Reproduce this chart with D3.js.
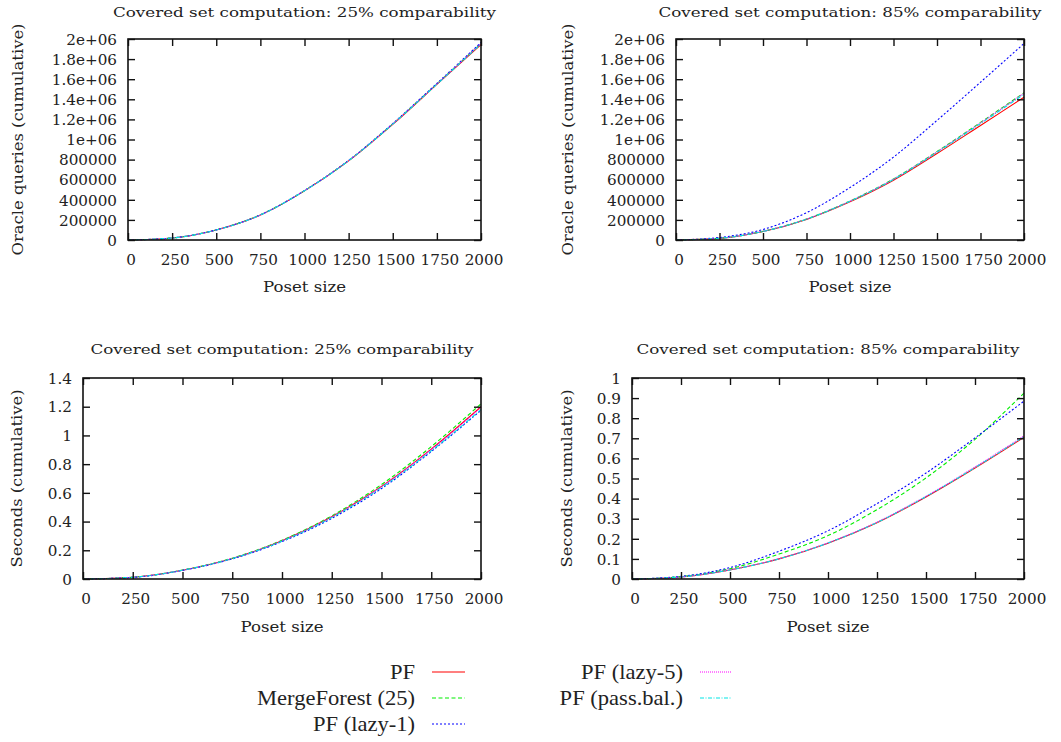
<!DOCTYPE html>
<html>
<head>
<meta charset="utf-8">
<script src="https://cdn.jsdelivr.net/npm/d3@7"></script>
<style>
  html, body { margin: 0; padding: 0; background: #fff; }
  svg { display: block; }
  text { fill: #222; font-family: "DejaVu Serif", "Liberation Serif", "Noto Serif", serif; }
  text.legend-label { font-family: "Liberation Serif", "DejaVu Serif", serif; }
</style>
</head>
<body>
<svg id="chart" width="1061" height="742"></svg>
<script>
// Poset sizes sampled along the x axis
const posetSizes = [0, 250, 500, 750, 1000, 1250, 1500, 1750, 2000];

const seriesNames = ["PF", "MergeForest (25)", "PF (lazy-1)", "PF (lazy-5)", "PF (pass.bal.)"];

// Oracle queries (cumulative), 25% comparability
const queries25PF      = [0, 20e3, 100e3, 248e3, 489e3, 787e3, 1150e3, 1548e3, 1945e3];
const queries25Merge   = [0, 20e3, 101e3, 250e3, 491e3, 790e3, 1155e3, 1553e3, 1955e3];
const queries25Lazy1   = [0, 20e3, 101e3, 250e3, 492e3, 792e3, 1158e3, 1558e3, 1965e3];
const queries25Lazy5   = [0, 20e3, 100e3, 249e3, 491e3, 790e3, 1154e3, 1552e3, 1955e3];
const queries25PassBal = [0, 20e3, 100e3, 249e3, 490e3, 789e3, 1153e3, 1550e3, 1950e3];

// Oracle queries (cumulative), 85% comparability
const queries85PF      = [0, 16e3, 84e3, 205e3, 380e3, 595e3, 860e3, 1140e3, 1420e3];
const queries85Merge   = [0, 17e3, 86e3, 209e3, 388e3, 607e3, 880e3, 1170e3, 1465e3];
const queries85Lazy1   = [0, 25e3, 105e3, 272e3, 522e3, 825e3, 1190e3, 1570e3, 1955e3];
const queries85Lazy5   = [0, 17e3, 86e3, 208e3, 387e3, 605e3, 877e3, 1165e3, 1460e3];
const queries85PassBal = [0, 17e3, 85e3, 207e3, 385e3, 602e3, 872e3, 1158e3, 1450e3];

// Seconds (cumulative), 25% comparability
const seconds25PF      = [0, 0.012, 0.061, 0.143, 0.266, 0.433, 0.645, 0.905, 1.200];
const seconds25Merge   = [0, 0.012, 0.062, 0.145, 0.270, 0.440, 0.658, 0.922, 1.220];
const seconds25Lazy1   = [0, 0.011, 0.060, 0.140, 0.260, 0.422, 0.630, 0.888, 1.175];
const seconds25Lazy5   = [0, 0.012, 0.061, 0.143, 0.266, 0.433, 0.644, 0.903, 1.195];
const seconds25PassBal = [0, 0.012, 0.061, 0.142, 0.263, 0.428, 0.637, 0.893, 1.180];

// Seconds (cumulative), 85% comparability
const seconds85PF      = [0, 0.010, 0.045, 0.100, 0.178, 0.280, 0.408, 0.552, 0.705];
const seconds85Merge   = [0, 0.012, 0.051, 0.124, 0.216, 0.345, 0.503, 0.695, 0.925];
const seconds85Lazy1   = [0, 0.013, 0.057, 0.138, 0.240, 0.375, 0.527, 0.702, 0.885];
const seconds85Lazy5   = [0, 0.010, 0.046, 0.101, 0.180, 0.283, 0.412, 0.557, 0.712];
const seconds85PassBal = [0, 0.010, 0.045, 0.100, 0.179, 0.281, 0.410, 0.554, 0.708];

// Axis ticks and labels
const xTicks = [0, 250, 500, 750, 1000, 1250, 1500, 1750, 2000];
const queryTicks = [0, 2e5, 4e5, 6e5, 8e5, 1e6, 1.2e6, 1.4e6, 1.6e6, 1.8e6, 2e6];
const queryTickLabels = ["0", "200000", "400000", "600000", "800000", "1e+06", "1.2e+06", "1.4e+06", "1.6e+06", "1.8e+06", "2e+06"];
const seconds25Ticks = [0, 0.2, 0.4, 0.6, 0.8, 1, 1.2, 1.4];
const seconds25TickLabels = ["0", "0.2", "0.4", "0.6", "0.8", "1", "1.2", "1.4"];
const seconds85Ticks = [0, 0.1, 0.2, 0.3, 0.4, 0.5, 0.6, 0.7, 0.8, 0.9, 1];
const seconds85TickLabels = ["0", "0.1", "0.2", "0.3", "0.4", "0.5", "0.6", "0.7", "0.8", "0.9", "1"];

const titles = ["Covered set computation: 25% comparability", "Covered set computation: 85% comparability"];
const xLabel = "Poset size";
const yLabels = ["Oracle queries (cumulative)", "Seconds (cumulative)"];

// gnuplot-style line types
const seriesStyles = [
  { color: "#ff0000", dash: null },
  { color: "#00ee00", dash: "4,2.5" },
  { color: "#0000ff", dash: "2,2" },
  { color: "#ff00ff", dash: "1,1" },
  { color: "#00e5e5", dash: "4,1.5,1,1.5" }
];

const svg = d3.select("#chart");

// Horizontal stretch so a sample string renders at a target width
function stretchFactor(sample, size, target, cls) {
  const t = svg.append("text").attr("font-size", size).attr("class", cls || null).text(sample);
  const w = t.node().getComputedTextLength();
  t.remove();
  return w > 0 ? target / w : 1;
}

// Stretch a text and place it by its left edge; align: 1 = right edge at x, 0.5 = centred on x
function placeStretched(sel, k, xAnchor, align) {
  sel.each(function () {
    const el = d3.select(this);
    const w = this.getComputedTextLength() * k;
    el.attr("text-anchor", "start")
      .attr("x", xAnchor - w * align)
      .attr("textLength", w)
      .attr("lengthAdjust", "spacingAndGlyphs");
  });
}

const tickSize = 14.5;
const tickStretch = stretchFactor("200000", tickSize, 58);

function drawPanel(cfg) {
  const { left, right, top, bottom } = cfg.frame;
  const x = d3.scaleLinear().domain([0, 2000]).range([left, right]);
  const y = d3.scaleLinear().domain(cfg.yDomain).range([bottom, top]);
  const g = svg.append("g");

  // curves
  const line = d3.line()
    .x((d, i) => x(posetSizes[i]))
    .y(d => y(d))
    .curve(d3.curveMonotoneX);
  cfg.series.forEach((vals, i) => {
    const st = seriesStyles[i];
    g.append("path")
      .attr("d", line(vals))
      .attr("fill", "none")
      .attr("stroke", st.color)
      .attr("stroke-width", 1.1)
      .attr("stroke-dasharray", st.dash);
  });

  const tickLen = 7;
  // y axis ticks (left, mirrored on right) with labels
  const yAxisL = d3.axisLeft(y).tickValues(cfg.yTicks).tickSize(-tickLen)
    .tickFormat((d, i) => cfg.yTickLabels[i]).tickPadding(11);
  const ga = g.append("g").attr("transform", `translate(${left},0)`).call(yAxisL);
  const yAxisR = d3.axisRight(y).tickValues(cfg.yTicks).tickSize(-tickLen).tickFormat("");
  const gb = g.append("g").attr("transform", `translate(${right},0)`).call(yAxisR);
  // x axis ticks (bottom, mirrored on top)
  const xAxisB = d3.axisBottom(x).tickValues(xTicks).tickSize(-tickLen)
    .tickFormat(d3.format("d")).tickPadding(0);
  const gc = g.append("g").attr("transform", `translate(0,${bottom})`).call(xAxisB);
  const xAxisT = d3.axisTop(x).tickValues(xTicks).tickSize(-tickLen).tickFormat("");
  const gd = g.append("g").attr("transform", `translate(0,${top})`).call(xAxisT);

  [ga, gb, gc, gd].forEach(a => {
    a.select(".domain").remove();
    a.attr("font-family", null).attr("font-size", null);
    a.selectAll(".tick line").attr("stroke", "#111").attr("stroke-width", 1.4);
  });
  ga.selectAll(".tick text")
    .attr("font-size", tickSize).attr("fill", "#222").attr("dy", "0.36em");
  placeStretched(ga.selectAll(".tick text"), tickStretch, -11, 1);
  gc.selectAll(".tick text")
    .attr("font-size", tickSize).attr("fill", "#222")
    .attr("y", cfg.xTickBaseline - bottom).attr("dy", 0);
  placeStretched(gc.selectAll(".tick text"), tickStretch, 2.5, 0.5);

  // frame
  g.append("rect")
    .attr("x", left).attr("y", top)
    .attr("width", right - left).attr("height", bottom - top)
    .attr("fill", "none").attr("stroke", "#111").attr("stroke-width", 1.6);

  const cx = (left + right) / 2;
  // title
  g.append("text")
    .attr("x", cx).attr("y", cfg.titleBaseline)
    .attr("text-anchor", "middle").attr("font-size", 13.5)
    .attr("textLength", 383).attr("lengthAdjust", "spacingAndGlyphs")
    .text(cfg.title);
  // x label
  g.append("text")
    .attr("x", cx).attr("y", cfg.xLabelBaseline)
    .attr("text-anchor", "middle").attr("font-size", 14.5)
    .attr("textLength", 83).attr("lengthAdjust", "spacingAndGlyphs")
    .text(xLabel);
  // y label
  g.append("text")
    .attr("transform", `translate(${cfg.yLabelX},${(top + bottom) / 2}) rotate(-90)`)
    .attr("text-anchor", "middle").attr("font-size", 14.5)
    .attr("textLength", cfg.yLabelLength).attr("lengthAdjust", "spacingAndGlyphs")
    .text(cfg.yLabel);
}

drawPanel({
  frame: { left: 128, right: 481, top: 39, bottom: 240 },
  yDomain: [0, 2e6], yTicks: queryTicks, yTickLabels: queryTickLabels,
  series: [queries25PF, queries25Merge, queries25Lazy1, queries25Lazy5, queries25PassBal],
  title: titles[0], titleBaseline: 16.5, xTickBaseline: 264.5, xLabelBaseline: 292,
  yLabel: yLabels[0], yLabelX: 23, yLabelLength: 232
});
drawPanel({
  frame: { left: 676, right: 1024, top: 39, bottom: 240 },
  yDomain: [0, 2e6], yTicks: queryTicks, yTickLabels: queryTickLabels,
  series: [queries85PF, queries85Merge, queries85Lazy1, queries85Lazy5, queries85PassBal],
  title: titles[1], titleBaseline: 16.5, xTickBaseline: 264.5, xLabelBaseline: 292,
  yLabel: yLabels[0], yLabelX: 573, yLabelLength: 232
});
drawPanel({
  frame: { left: 83, right: 481, top: 378, bottom: 579 },
  yDomain: [0, 1.4], yTicks: seconds25Ticks, yTickLabels: seconds25TickLabels,
  series: [seconds25PF, seconds25Merge, seconds25Lazy1, seconds25Lazy5, seconds25PassBal],
  title: titles[0], titleBaseline: 354, xTickBaseline: 603.5, xLabelBaseline: 632,
  yLabel: yLabels[1], yLabelX: 22, yLabelLength: 178
});
drawPanel({
  frame: { left: 632, right: 1024, top: 378, bottom: 579 },
  yDomain: [0, 1], yTicks: seconds85Ticks, yTickLabels: seconds85TickLabels,
  series: [seconds85PF, seconds85Merge, seconds85Lazy1, seconds85Lazy5, seconds85PassBal],
  title: titles[1], titleBaseline: 354, xTickBaseline: 603.5, xLabelBaseline: 632,
  yLabel: yLabels[1], yLabelX: 572, yLabelLength: 178
});

// legend: two columns, labels right-aligned before the line sample
const legendSize = 21;
const legendStretch = stretchFactor("MergeForest (25)", legendSize, 158, "legend-label");
const legendColumns = [
  { textRight: 415, x0: 432, x1: 465, items: [0, 1, 2] },
  { textRight: 683, x0: 700, x1: 732, items: [3, 4] }
];
const legendRowY = [672, 698, 724];
const legend = svg.append("g");
legendColumns.forEach(col => {
  col.items.forEach((si, r) => {
    const yy = legendRowY[r];
    const t = legend.append("text")
      .attr("class", "legend-label")
      .attr("y", yy + 7)
      .attr("font-size", legendSize)
      .text(seriesNames[si]);
    placeStretched(t, legendStretch, col.textRight, 1);
    legend.append("line")
      .attr("x1", col.x0).attr("x2", col.x1)
      .attr("y1", yy).attr("y2", yy)
      .attr("stroke", seriesStyles[si].color)
      .attr("stroke-width", 1.2)
      .attr("stroke-dasharray", seriesStyles[si].dash);
  });
});
</script>
</body>
</html>
